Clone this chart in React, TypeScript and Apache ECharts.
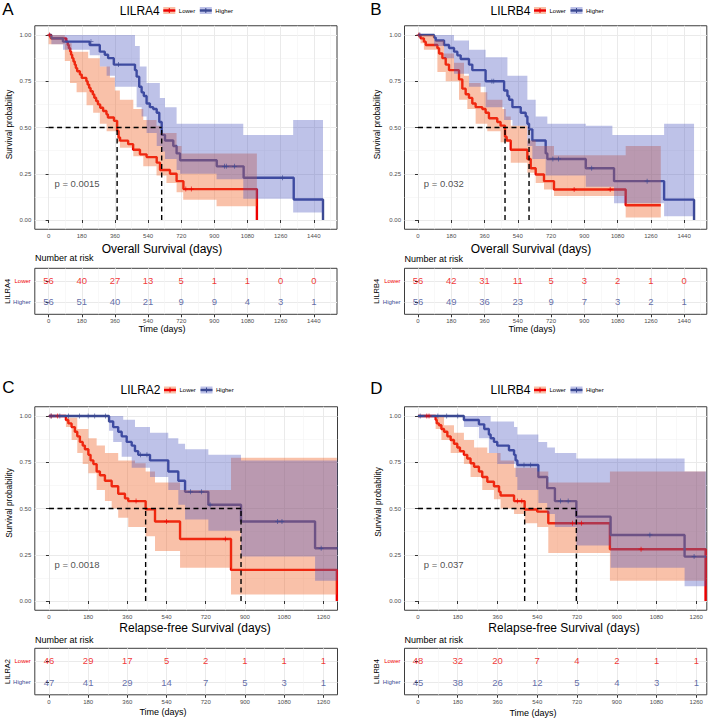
import React, { useEffect, useRef } from "react";
import * as echarts from "echarts";

const FONT = '"Liberation Sans", Arial, Helvetica, sans-serif';
const RED = "#EE0000";
const BLUE = "#3B4992";
const RED_BAND = "rgba(240,100,40,0.4)";
const BLUE_BAND = "rgba(70,80,190,0.35)";
const RED_BAND_SOLID = "#F9C1A9";
const BLUE_BAND_SOLID = "#BEC2E8";
const BORDER = "#3d3d3d";
const GRID_MAJOR = "#EAEAEA";
const GRID_MINOR = "#F3F3F3";

// ---------- axis ticks ----------
const TICKS_OS = [0, 180, 360, 540, 720, 900, 1080, 1260, 1440];
const TICKS_RFS = [0, 180, 360, 540, 720, 900, 1080, 1260];
const Y_TICKS = [0, 0.25, 0.5, 0.75, 1];
const Y_MINOR = [0.125, 0.375, 0.625, 0.875];
const GROUPS = ["Lower", "Higher"];

// ---------- Panel A: LILRA4, overall survival ----------
const A_LOWER = [[0,1],[12,0.982],[96,0.964],[104,0.946],[110,0.929],[117,0.911],[122,0.893],[128,0.875],[135,0.857],[142,0.839],[148,0.821],[155,0.804],[170,0.786],[180,0.768],[205,0.75],[212,0.732],[220,0.714],[228,0.696],[240,0.679],[248,0.661],[258,0.643],[268,0.625],[280,0.607],[296,0.589],[314,0.571],[322,0.554],[355,0.536],[372,0.482],[380,0.446],[388,0.429],[432,0.41],[459,0.38],[496,0.355],[532,0.34],[587,0.31],[605,0.27],[659,0.25],[695,0.21],[732,0.167],[1131,0]];
const A_HIGHER = [[0,1],[15,0.982],[78,0.964],[223,0.946],[278,0.91],[305,0.893],[323,0.875],[354,0.84],[469,0.81],[478,0.775],[492,0.72],[505,0.69],[517,0.67],[532,0.63],[550,0.61],[568,0.6],[587,0.58],[601,0.53],[614,0.46],[632,0.43],[677,0.4],[695,0.36],[714,0.323],[913,0.29],[1059,0.228],[1331,0.111],[1490,0]];
const A_LOWER_HI = [[0,1],[88,0.955],[125,0.91],[215,0.875],[278,0.83],[333,0.77],[360,0.7],[387,0.65],[460,0.6],[514,0.54],[586,0.51],[604,0.47],[695,0.4],[722,0.36],[1131,0.36]];
const A_LOWER_LO = [[0,0.95],[88,0.86],[116,0.74],[152,0.69],[206,0.62],[242,0.58],[278,0.52],[315,0.48],[372,0.42],[387,0.39],[460,0.345],[514,0.29],[586,0.24],[640,0.2],[695,0.15],[731,0.11],[912,0.075],[1131,0.075]];
const A_HIGHER_HI = [[0,1],[469,0.94],[495,0.83],[532,0.74],[604,0.66],[632,0.61],[695,0.52],[1057,0.46],[1328,0.54],[1490,0.54]];
const A_HIGHER_LO = [[0,0.99],[15,0.95],[78,0.92],[223,0.89],[278,0.83],[315,0.78],[360,0.72],[478,0.61],[505,0.56],[532,0.47],[587,0.4],[614,0.37],[632,0.33],[695,0.27],[714,0.25],[912,0.22],[1057,0.115],[1328,0.04],[1490,0.04]];
const A_LOWER_CENSOR = [[5,1],[745,0.167],[775,0.167]];
const A_HIGHER_CENSOR = [[230,0.964],[380,0.84],[955,0.29],[965,0.29],[1010,0.29],[1270,0.228]];
const A_RISK_LOWER = [56, 40, 27, 13, 5, 1, 1, 0, 0];
const A_RISK_HIGHER = [56, 51, 40, 21, 9, 9, 4, 3, 1];
const A_PVAL = "p = 0.0015";

// ---------- Panel B: LILRB4, overall survival ----------
const B_LOWER = [[0,1],[14,0.982],[32,0.964],[42,0.946],[105,0.929],[114,0.9],[132,0.875],[150,0.84],[168,0.81],[222,0.76],[240,0.71],[258,0.68],[276,0.66],[294,0.63],[312,0.61],[348,0.6],[366,0.58],[384,0.55],[429,0.53],[447,0.51],[471,0.45],[480,0.43],[502,0.38],[592,0.33],[610,0.28],[637,0.246],[682,0.21],[736,0.165],[1124,0.08],[1314,0.08]];
const B_HIGHER = [[0,1],[87,0.986],[96,0.97],[141,0.946],[168,0.93],[195,0.91],[213,0.89],[231,0.87],[276,0.84],[294,0.81],[366,0.75],[466,0.7],[484,0.67],[493,0.65],[511,0.61],[556,0.58],[583,0.56],[592,0.52],[601,0.49],[619,0.43],[691,0.36],[700,0.33],[908,0.28],[1061,0.21],[1332,0.11],[1494,0]];
const B_LOWER_HI = [[0,1],[87,0.97],[141,0.9],[195,0.85],[249,0.78],[276,0.74],[339,0.69],[375,0.65],[457,0.6],[475,0.56],[502,0.51],[592,0.43],[637,0.4],[736,0.35],[1124,0.4],[1314,0.4]];
const B_LOWER_LO = [[0,0.99],[14,0.955],[32,0.92],[105,0.8],[150,0.75],[222,0.65],[267,0.6],[312,0.52],[375,0.48],[447,0.42],[502,0.31],[592,0.255],[637,0.2],[682,0.165],[736,0.13],[1124,0.013],[1314,0.013]];
const B_HIGHER_HI = [[0,1],[195,0.97],[276,0.92],[366,0.88],[484,0.78],[592,0.65],[637,0.56],[700,0.52],[908,0.51],[1052,0.46],[1332,0.52],[1494,0.52]];
const B_HIGHER_LO = [[0,1],[87,0.94],[141,0.875],[195,0.79],[276,0.72],[366,0.61],[466,0.54],[511,0.51],[592,0.4],[619,0.33],[691,0.24],[908,0.18],[1061,0.09],[1332,0.02],[1494,0.02]];
const B_LOWER_CENSOR = [[5,1],[845,0.165],[1040,0.165]];
const B_HIGHER_CENSOR = [[10,1],[400,0.75],[410,0.75],[730,0.33],[760,0.33],[940,0.28],[1240,0.21]];
const B_RISK_LOWER = [56, 42, 31, 11, 5, 3, 2, 1, 0];
const B_RISK_HIGHER = [56, 49, 36, 23, 9, 7, 3, 2, 1];
const B_PVAL = "p = 0.032";

// ---------- Panel C: LILRA2, relapse-free survival ----------
const C_LOWER = [[0,1],[78,0.978],[89,0.96],[104,0.94],[119,0.915],[130,0.89],[142,0.86],[155,0.84],[165,0.82],[181,0.79],[191,0.76],[204,0.74],[219,0.7],[234,0.68],[257,0.65],[288,0.62],[318,0.58],[349,0.555],[364,0.54],[444,0.496],[487,0.43],[602,0.335],[836,0.168],[1322,0]];
const C_HIGHER = [[0,1],[276,0.97],[295,0.94],[318,0.915],[334,0.89],[357,0.86],[380,0.84],[395,0.81],[410,0.79],[464,0.76],[548,0.7],[594,0.65],[625,0.59],[732,0.52],[882,0.43],[1222,0.285],[1325,0.285]];
const C_LOWER_HI = [[0,1],[78,0.99],[130,0.93],[181,0.88],[219,0.84],[257,0.8],[318,0.76],[395,0.745],[444,0.7],[487,0.64],[602,0.6],[836,0.775],[1322,0.775]];
const C_LOWER_LO = [[0,1],[78,0.94],[104,0.87],[130,0.8],[155,0.74],[181,0.69],[219,0.6],[257,0.54],[288,0.5],[318,0.45],[364,0.4],[444,0.35],[487,0.27],[602,0.18],[836,0.035],[1322,0.035]];
const C_HIGHER_HI = [[0,1],[341,0.98],[395,0.94],[464,0.91],[548,0.88],[594,0.85],[625,0.82],[732,0.79],[882,0.76],[1325,0.76]];
const C_HIGHER_LO = [[0,1],[276,0.92],[295,0.86],[334,0.78],[380,0.72],[464,0.67],[548,0.6],[594,0.52],[625,0.44],[732,0.38],[882,0.24],[1222,0.11],[1325,0.11]];
const C_LOWER_CENSOR = [[10,1],[40,1],[400,0.54],[540,0.43],[810,0.335]];
const C_HIGHER_CENSOR = [[10,1],[50,1],[90,1],[140,1],[180,1],[210,1],[260,1],[420,0.79],[450,0.79],[650,0.59],[700,0.59],[740,0.52],[1050,0.43],[1070,0.43],[1250,0.285]];
const C_RISK_LOWER = [46, 29, 17, 5, 2, 1, 1, 1];
const C_RISK_HIGHER = [47, 41, 29, 14, 7, 5, 3, 1];
const C_PVAL = "p = 0.0018";

// ---------- Panel D: LILRB4, relapse-free survival ----------
const D_LOWER = [[0,1],[80,0.98],[85,0.96],[95,0.95],[106,0.93],[118,0.915],[133,0.89],[148,0.87],[163,0.85],[178,0.83],[190,0.81],[208,0.79],[223,0.77],[238,0.745],[254,0.726],[276,0.7],[291,0.67],[314,0.645],[344,0.62],[367,0.59],[374,0.57],[435,0.54],[483,0.495],[540,0.483],[590,0.42],[869,0.28],[1302,0]];
const D_HIGHER = [[0,1],[208,0.978],[276,0.955],[300,0.93],[321,0.9],[329,0.88],[344,0.86],[359,0.84],[412,0.815],[435,0.79],[442,0.76],[450,0.735],[545,0.67],[585,0.61],[620,0.54],[717,0.456],[872,0.357],[1207,0.24],[1305,0.24]];
const D_LOWER_HI = [[0,1],[80,0.995],[118,0.95],[163,0.91],[208,0.87],[254,0.83],[314,0.8],[374,0.76],[435,0.72],[540,0.7],[590,0.64],[869,0.7],[1302,0.7]];
const D_LOWER_LO = [[0,1],[80,0.93],[106,0.87],[148,0.8],[208,0.74],[238,0.67],[291,0.6],[344,0.55],[374,0.5],[435,0.47],[483,0.42],[540,0.4],[590,0.26],[869,0.11],[1302,0.11]];
const D_HIGHER_HI = [[0,1],[329,0.97],[435,0.94],[450,0.9],[545,0.86],[585,0.83],[620,0.8],[717,0.77],[1207,0.7],[1305,0.7]];
const D_HIGHER_LO = [[0,1],[208,0.94],[276,0.88],[321,0.8],[359,0.74],[442,0.67],[450,0.6],[545,0.53],[585,0.47],[620,0.4],[717,0.3],[872,0.18],[1207,0.08],[1305,0.08]];
const D_LOWER_CENSOR = [[40,1],[50,1],[450,0.54],[470,0.54],[700,0.42],[740,0.42],[1010,0.28]];
const D_HIGHER_CENSOR = [[10,1],[90,1],[130,1],[180,1],[480,0.735],[510,0.735],[645,0.54],[680,0.54],[1050,0.357],[1250,0.24]];
const D_RISK_LOWER = [48, 32, 20, 7, 4, 2, 1, 1];
const D_RISK_HIGHER = [45, 38, 26, 12, 5, 4, 3, 1];
const D_PVAL = "p = 0.037";

// ---------- panel layout (positions / styles only) ----------
const PANELS = [
  {
    letter: "A", gene: "LILRA4", xlab: "Overall Survival (days)", ticks: TICKS_OS,
    xMin: -75, xMax: 1566,
    plot: { left: 34.8, top: 25.75, width: 302.2, height: 203.5 },
    table: { left: 34.8, top: 268.3, width: 302.2, height: 46 },
    lower: A_LOWER, higher: A_HIGHER, lowerHi: A_LOWER_HI, lowerLo: A_LOWER_LO, higherHi: A_HIGHER_HI, higherLo: A_HIGHER_LO,
    lowerCensor: A_LOWER_CENSOR, higherCensor: A_HIGHER_CENSOR, riskLower: A_RISK_LOWER, riskHigher: A_RISK_HIGHER,
    pval: A_PVAL, pvalAt: [29, 0.195],
    letterPos: [8, 9], titleY: 10.5, legendX: 163.3,
    xlabPos: [162, 248.5], nrPos: [35, 258.3], timePos: [162, 329], ylabPos: [8.5, 124.5], tnamePos: [7.5, 291.3],
  },
  {
    letter: "B", gene: "LILRB4", xlab: "Overall Survival (days)", ticks: TICKS_OS,
    xMin: -73, xMax: 1563,
    plot: { left: 404.5, top: 25.75, width: 302.3, height: 203.5 },
    table: { left: 404.5, top: 268.3, width: 302.3, height: 46 },
    lower: B_LOWER, higher: B_HIGHER, lowerHi: B_LOWER_HI, lowerLo: B_LOWER_LO, higherHi: B_HIGHER_HI, higherLo: B_HIGHER_LO,
    lowerCensor: B_LOWER_CENSOR, higherCensor: B_HIGHER_CENSOR, riskLower: B_RISK_LOWER, riskHigher: B_RISK_HIGHER,
    pval: B_PVAL, pvalAt: [29, 0.195],
    letterPos: [376, 9], titleY: 10.5, legendX: 534,
    xlabPos: [531, 249], nrPos: [404.5, 258.5], timePos: [532, 329], ylabPos: [377, 124.5], tnamePos: [376.5, 291.3],
  },
  {
    letter: "C", gene: "LILRA2", xlab: "Relapse-free Survival (days)", ticks: TICKS_RFS,
    xMin: -65, xMax: 1325,
    plot: { left: 34.8, top: 406.75, width: 302.7, height: 203.5 },
    table: { left: 34.8, top: 648.3, width: 302.7, height: 46.5 },
    lower: C_LOWER, higher: C_HIGHER, lowerHi: C_LOWER_HI, lowerLo: C_LOWER_LO, higherHi: C_HIGHER_HI, higherLo: C_HIGHER_LO,
    lowerCensor: C_LOWER_CENSOR, higherCensor: C_HIGHER_CENSOR, riskLower: C_RISK_LOWER, riskHigher: C_RISK_HIGHER,
    pval: C_PVAL, pvalAt: [23, 0.195],
    letterPos: [8.3, 387.5], titleY: 390, legendX: 164,
    xlabPos: [195, 627.5], nrPos: [35, 639.5], timePos: [163, 711.7], ylabPos: [8.5, 503], tnamePos: [7.5, 671.5],
  },
  {
    letter: "D", gene: "LILRB4", xlab: "Relapse-free Survival (days)", ticks: TICKS_RFS,
    xMin: -61, xMax: 1307.6,
    plot: { left: 404.5, top: 406.75, width: 302.3, height: 203.5 },
    table: { left: 404.5, top: 648.3, width: 302.3, height: 46.5 },
    lower: D_LOWER, higher: D_HIGHER, lowerHi: D_LOWER_HI, lowerLo: D_LOWER_LO, higherHi: D_HIGHER_HI, higherLo: D_HIGHER_LO,
    lowerCensor: D_LOWER_CENSOR, higherCensor: D_HIGHER_CENSOR, riskLower: D_RISK_LOWER, riskHigher: D_RISK_HIGHER,
    pval: D_PVAL, pvalAt: [24, 0.195],
    letterPos: [376.5, 388.5], titleY: 390, legendX: 534,
    xlabPos: [564, 627.7], nrPos: [404.5, 639.5], timePos: [533, 712.5], ylabPos: [378, 502], tnamePos: [376.5, 671.5],
  },
];

const PLUS = "path://M4.2,0h1.6v4.2h4.2v1.6h-4.2v4.2h-1.6v-4.2h-4.2v-1.6h4.2z";

function median(curve: number[][]) {
  for (const [t, s] of curve) if (s <= 0.5) return t;
  return null;
}

function bandSeries(hi: number[][], lo: number[][], color: string, idx: number, z: number) {
  return {
    type: "custom",
    xAxisIndex: idx,
    yAxisIndex: idx,
    z,
    silent: true,
    clip: true,
    data: [[hi[0][0], hi[0][1]]],
    renderItem: (_params: any, api: any) => {
      const pts: number[][] = [];
      for (let i = 0; i < hi.length - 1; i++) {
        pts.push(api.coord([hi[i][0], hi[i][1]]));
        pts.push(api.coord([hi[i + 1][0], hi[i][1]]));
      }
      for (let i = lo.length - 2; i >= 0; i--) {
        pts.push(api.coord([lo[i + 1][0], lo[i][1]]));
        pts.push(api.coord([lo[i][0], lo[i][1]]));
      }
      return { type: "polygon", shape: { points: pts }, style: { fill: color } };
    },
  };
}

function txt(x: number, y: number, text: string, size: number, opts: any = {}) {
  return {
    type: "text",
    x,
    y,
    rotation: opts.rotation || 0,
    silent: true,
    z: 10,
    style: {
      text,
      fontSize: size,
      fontFamily: FONT,
      fill: opts.fill || "#000",
      align: opts.align || "center",
      verticalAlign: "middle",
      textAlign: opts.align || "center",
      textVerticalAlign: "middle",
    },
  };
}

function buildOption() {
  const grid: any[] = [];
  const xAxis: any[] = [];
  const yAxis: any[] = [];
  const series: any[] = [];
  const graphic: any[] = [];

  const tickStyle = { show: true, length: 3, lineStyle: { color: "#333", width: 1 } };
  const labelBase = { fontSize: 6, color: "#4D4D4D", fontFamily: FONT };

  PANELS.forEach((p, pi) => {
    const gPlot = pi * 2;
    const gTab = pi * 2 + 1;
    const minors = p.ticks.map((t) => t + 90).filter((v) => v <= p.xMax);
    const gridBase = { show: true, borderColor: BORDER, borderWidth: 1, containLabel: false, outerBoundsMode: "none" };
    grid.push({ ...gridBase, ...p.plot });
    grid.push({ ...gridBase, ...p.table });

    [gPlot, gTab].forEach((g) => {
      xAxis.push({
        type: "value", gridIndex: g, min: p.xMin, max: p.xMax, position: "bottom",
        axisLine: { show: false },
        axisTick: { ...tickStyle, customValues: p.ticks },
        axisLabel: { ...labelBase, customValues: p.ticks, margin: 4, formatter: (v: any) => String(v) },
        splitLine: { show: true, lineStyle: { color: GRID_MAJOR, width: 1 } },
      });
      xAxis.push({
        type: "value", gridIndex: g, min: p.xMin, max: p.xMax, position: "top",
        axisLine: { show: false },
        axisTick: { show: false, customValues: minors },
        axisLabel: { show: false, customValues: minors },
        splitLine: { show: true, lineStyle: { color: GRID_MINOR, width: 0.6 } },
      });
    });

    // plot y axes
    yAxis.push({
      type: "value", gridIndex: gPlot, min: -0.05, max: 1.05,
      axisLine: { show: false },
      axisTick: { ...tickStyle, customValues: Y_TICKS },
      axisLabel: { ...labelBase, customValues: Y_TICKS, margin: 3.5, formatter: (v: any) => Number(v).toFixed(2) },
      splitLine: { show: true, lineStyle: { color: GRID_MAJOR, width: 1 } },
    });
    yAxis.push({
      type: "value", gridIndex: gPlot, min: -0.05, max: 1.05, position: "right",
      axisLine: { show: false },
      axisTick: { show: false, customValues: Y_MINOR },
      axisLabel: { show: false, customValues: Y_MINOR },
      splitLine: { show: true, lineStyle: { color: GRID_MINOR, width: 0.6 } },
    });
    // table y axes
    yAxis.push({
      type: "value", gridIndex: gTab, min: 0.4, max: 2.6,
      axisLine: { show: false },
      axisTick: { ...tickStyle, customValues: [1, 2] },
      axisLabel: {
        ...labelBase, customValues: [1, 2], margin: 4,
        formatter: (v: any) => (Number(v) > 1.5 ? GROUPS[0] : GROUPS[1]),
        color: (v: any) => (Number(v) > 1.5 ? RED : BLUE),
      },
      splitLine: { show: true, lineStyle: { color: GRID_MAJOR, width: 1 } },
    });
    yAxis.push({
      type: "value", gridIndex: gTab, min: 0.4, max: 2.6, position: "right",
      axisLine: { show: false }, axisTick: { show: false }, axisLabel: { show: false }, splitLine: { show: false },
    });

    const ai = gPlot * 2; // plot axis index
    const ti = gTab * 2; // table axis index

    // survival lines (under the ribbons, as ggplot layers them)
    series.push({
      type: "line", xAxisIndex: ai, yAxisIndex: ai, data: p.lower, step: "end", symbol: "none", showSymbol: false,
      lineStyle: { color: RED, width: 2.4 }, z: 2, silent: true, clip: true,
    });
    series.push({
      type: "line", xAxisIndex: ai, yAxisIndex: ai, data: p.higher, step: "end", symbol: "none", showSymbol: false,
      lineStyle: { color: BLUE, width: 2.4 }, z: 3, silent: true, clip: true,
    });
    // confidence ribbons
    series.push(bandSeries(p.lowerHi, p.lowerLo, RED_BAND, ai, 4));
    series.push(bandSeries(p.higherHi, p.higherLo, BLUE_BAND, ai, 5));
    // censor marks
    series.push({
      type: "scatter", xAxisIndex: ai, yAxisIndex: ai, data: p.lowerCensor, symbol: PLUS, symbolSize: 5,
      itemStyle: { color: RED }, z: 6, silent: true,
    });
    series.push({
      type: "scatter", xAxisIndex: ai, yAxisIndex: ai, data: p.higherCensor, symbol: PLUS, symbolSize: 5,
      itemStyle: { color: BLUE }, z: 6, silent: true,
    });
    // median lines
    const mL = median(p.lower) as number;
    const mH = median(p.higher) as number;
    const dash = { color: "#000", width: 1.4, type: [5, 3.5] };
    [
      [[0, 0.5], [Math.max(mL, mH), 0.5]],
      [[mL, 0], [mL, 0.5]],
      [[mH, 0], [mH, 0.5]],
    ].forEach((seg) => {
      series.push({
        type: "line", xAxisIndex: ai, yAxisIndex: ai, data: seg, symbol: "none", showSymbol: false,
        lineStyle: dash, z: 7, silent: true,
      });
    });
    // p value
    series.push({
      type: "scatter", xAxisIndex: ai, yAxisIndex: ai, data: [p.pvalAt], symbolSize: 1,
      itemStyle: { color: "rgba(0,0,0,0)" }, z: 8, silent: true,
      label: { show: true, position: "right", distance: 0, formatter: () => p.pval, fontSize: 9.5, color: "#1a1a1a", fontFamily: FONT },
    });
    // risk table numbers
    [
      { vals: p.riskLower, row: 2, color: RED },
      { vals: p.riskHigher, row: 1, color: BLUE },
    ].forEach((r) => {
      series.push({
        type: "scatter", xAxisIndex: ti, yAxisIndex: ti, symbolSize: 1,
        data: r.vals.map((n, i) => [p.ticks[i], r.row, n]),
        itemStyle: { color: "rgba(0,0,0,0)" }, z: 8, silent: true,
        label: { show: true, position: "inside", formatter: (d: any) => String(d.value[2]), fontSize: 9.5, color: r.color, fontFamily: FONT },
      });
    });

    // texts
    graphic.push(txt(p.letterPos[0], p.letterPos[1], p.letter, 17));
    graphic.push(txt(p.legendX - 3.5, p.titleY, p.gene, 12, { align: "right" }));
    const lx = p.legendX;
    const ty = p.titleY;
    [
      { x: lx, band: RED_BAND_SOLID, line: RED, label: GROUPS[0] },
      { x: lx + 36.5, band: BLUE_BAND_SOLID, line: BLUE, label: GROUPS[1] },
    ].forEach((it) => {
      graphic.push({ type: "rect", silent: true, shape: { x: it.x, y: ty - 3.5, width: 12, height: 7 }, style: { fill: it.band } });
      graphic.push({ type: "rect", silent: true, shape: { x: it.x, y: ty - 1.2, width: 12, height: 2.4 }, style: { fill: it.line } });
      graphic.push({ type: "rect", silent: true, shape: { x: it.x + 5.5, y: ty - 2.5, width: 1, height: 5 }, style: { fill: it.line } });
      graphic.push(txt(it.x + 15.5, ty, it.label, 6, { align: "left" }));
    });
    graphic.push(txt(p.xlabPos[0], p.xlabPos[1], p.xlab, 12));
    graphic.push(txt(p.nrPos[0], p.nrPos[1], "Number at risk", 9, { align: "left" }));
    graphic.push(txt(p.timePos[0], p.timePos[1], "Time (days)", 9));
    graphic.push(txt(p.ylabPos[0], p.ylabPos[1], "Survival probability", 8.3, { rotation: Math.PI / 2 }));
    graphic.push(txt(p.tnamePos[0], p.tnamePos[1], p.gene, 7.5, { rotation: Math.PI / 2 }));
  });

  return {
    animation: false,
    backgroundColor: "#ffffff",
    grid,
    xAxis,
    yAxis,
    series,
    graphic: { elements: graphic },
  };
}

export default function App() {
  const ref = useRef<HTMLDivElement>(null);
  useEffect(() => {
    if (!ref.current) return;
    const chart = echarts.init(ref.current, null, { renderer: "svg" });
    chart.setOption(buildOption() as any);
    return () => chart.dispose();
  }, []);
  return (
    <div
      ref={ref}
      style={{ position: "absolute", left: 0, top: 0, width: 709, height: 719, background: "#fff" }}
    />
  );
}
